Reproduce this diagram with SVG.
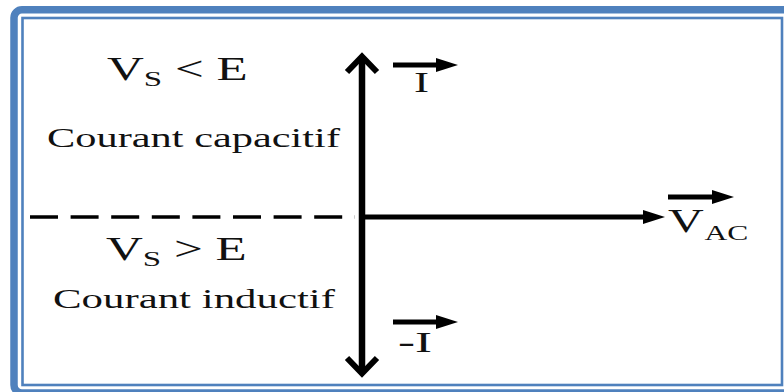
<svg xmlns="http://www.w3.org/2000/svg" width="784" height="392" viewBox="0 0 784 392">
<style>
.t{font-family:"Liberation Serif","Times New Roman",serif;fill:#111;}
.ax{stroke:#000;fill:none;}
.frame{fill:none;stroke:#4f81bd;}
</style>
<defs>
<marker id="tri" viewBox="0 0 22 14" refX="2" refY="7" markerWidth="22" markerHeight="14" markerUnits="userSpaceOnUse" orient="auto">
<path d="M0,0 L22,7 L0,14 Z" fill="#000"/>
</marker>
</defs>
<rect width="784" height="392" fill="#fff"/>
<g id="frame">
<rect class="frame" x="14" y="9.7" width="790" height="383.3" rx="8" stroke-width="7.5"/>
<rect class="frame" x="22.5" y="18" width="759.5" height="367" stroke-width="2.6"/>
</g>
<g id="connectors">
<line class="ax" x1="362" y1="58" x2="362" y2="371" stroke-width="6.5"/>
<polyline class="ax" points="347,72 362,56.5 377,72" stroke-width="6" stroke-linejoin="miter"/>
<polyline class="ax" points="347,358 362,373.5 377,358" stroke-width="6" stroke-linejoin="miter"/>
<line class="ax" x1="362" y1="217" x2="645" y2="217" stroke-width="5" marker-end="url(#tri)"/>
<line class="ax" x1="30" y1="217" x2="355" y2="217" stroke-width="3.6" stroke-dasharray="28 12.6"/>
<line class="ax" x1="393" y1="65" x2="438" y2="65" stroke-width="5" marker-end="url(#tri)"/>
<line class="ax" x1="393" y1="322" x2="438" y2="322" stroke-width="5" marker-end="url(#tri)"/>
<line class="ax" x1="668" y1="197" x2="714" y2="197" stroke-width="5" marker-end="url(#tri)"/>
</g>
<g id="label-vs-lt-e">
<text class="t" font-size="34" transform="translate(107,80) scale(1.5,1)">V<tspan font-size="22" dy="6">S</tspan><tspan dy="-6"> &lt; E</tspan></text>
</g>
<g id="label-capacitif">
<text class="t" font-size="27" x="47" y="147" textLength="293" lengthAdjust="spacingAndGlyphs">Courant capacitif</text>
</g>
<g id="label-vs-gt-e">
<text class="t" font-size="34" transform="translate(106,260) scale(1.5,1)">V<tspan font-size="22" dy="6">S</tspan><tspan dy="-6"> &gt; E</tspan></text>
</g>
<g id="label-inductif">
<text class="t" font-size="27" x="53" y="308" textLength="282" lengthAdjust="spacingAndGlyphs">Courant inductif</text>
</g>
<g id="label-I">
<text class="t" font-size="30" transform="translate(414,92) scale(1.5,1)">I</text>
</g>
<g id="label-minus-I">
<text class="t" font-size="30" x="398" y="352" textLength="34" lengthAdjust="spacingAndGlyphs">-I</text>
</g>
<g id="label-VAC">
<text class="t" font-size="33" transform="translate(668,232) scale(1.5,1)">V<tspan font-size="21" dx="0.5" dy="8">AC</tspan></text>
</g>
</svg>
